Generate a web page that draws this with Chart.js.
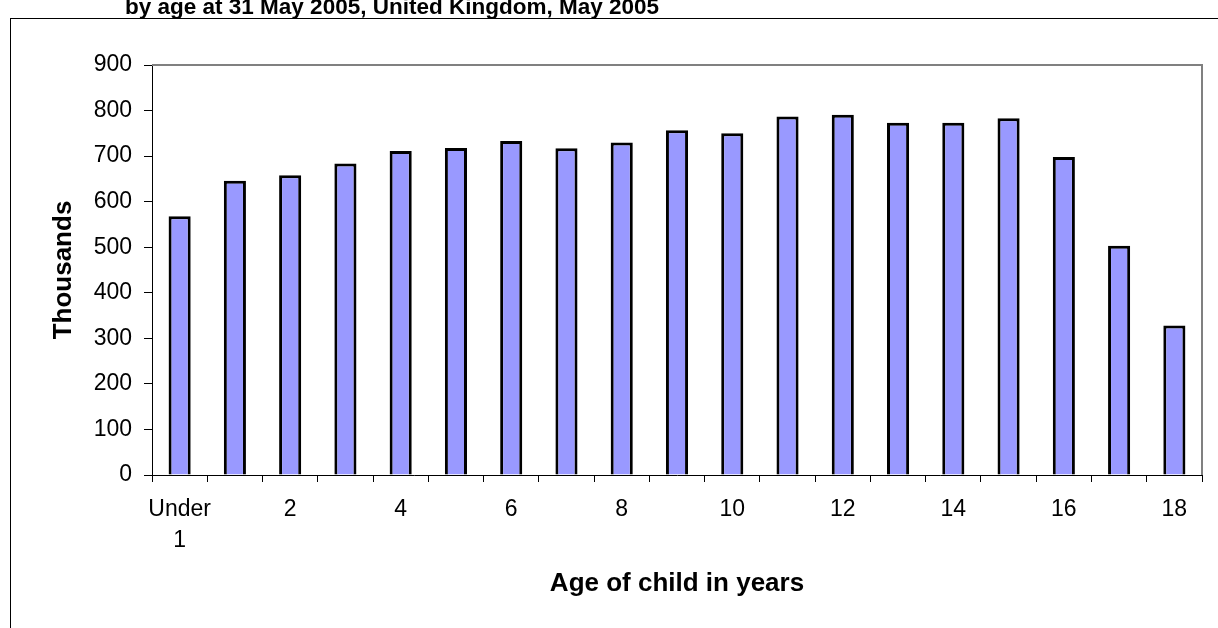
<!DOCTYPE html>
<html>
<head>
<meta charset="utf-8">
<script src="https://cdn.jsdelivr.net/npm/chart.js@4/dist/chart.umd.min.js"></script>
<style>
  html, body { margin: 0; padding: 0; background: #fff; overflow: hidden; }
</style>
</head>
<body>
<canvas id="chart" width="1218" height="628"></canvas>
<script>
// данные
const ages = ['Under 1', '1', '2', '3', '4', '5', '6', '7', '8', '9',
  '10', '11', '12', '13', '14', '15', '16', '17', '18'];
const children = [568, 646, 658, 684, 711, 718, 733, 717, 730, 757,
  750, 787, 791, 773, 773, 783, 698, 503, 328];
const yTicks = [0, 100, 200, 300, 400, 500, 600, 700, 800, 900];

const titleText = 'by age at 31 May 2005, United Kingdom, May 2005';
const FONT = 'Arial, "Liberation Sans", sans-serif';

// рамка вокруг всей диаграммы, обрезанный заголовок и серая рамка поля
const frameAndTitle = {
  id: 'frameAndTitle',
  beforeDraw(chart) {
    const { ctx } = chart;
    ctx.save();
    ctx.strokeStyle = '#000';
    ctx.lineWidth = 1;
    ctx.strokeRect(10.5, 18.5, chart.width + 20, chart.height + 20);
    ctx.fillStyle = '#000';
    ctx.font = `bold 22.5px ${FONT}`;
    ctx.textAlign = 'center';
    ctx.textBaseline = 'alphabetic';
    ctx.fillText(titleText, 392, 14);
    ctx.restore();
  },
  afterDatasetsDraw(chart) {
    const { ctx, chartArea: { left, top, right, bottom } } = chart;
    ctx.save();
    ctx.strokeStyle = '#808080';
    ctx.lineWidth = 2;
    ctx.beginPath();
    ctx.moveTo(left, top);
    ctx.lineTo(right, top);
    ctx.lineTo(right, bottom);
    ctx.stroke();
    ctx.restore();
  },
};

const chart = new Chart(document.getElementById('chart'), {
  type: 'bar',
  data: {
    labels: ages,
    datasets: [{
      data: children,
      backgroundColor: '#9999FF',
      borderColor: '#000000',
      borderWidth: 3,
      barPercentage: 0.4,
      categoryPercentage: 1,
    }],
  },
  options: {
    responsive: false,
    animation: false,
    layout: { padding: { left: 0, top: 65, right: 16, bottom: 0 } },
    plugins: {
      legend: { display: false },
      title: { display: false },
      tooltip: { enabled: false },
    },
    scales: {
      x: {
        afterFit: (scale) => { scale.height = 153; },
        grid: {
          offset: true,
          drawOnChartArea: false,
          drawTicks: true,
          tickLength: 7,
          color: '#000',
        },
        border: { display: true, color: '#000', width: 1 },
        ticks: {
          autoSkip: false,
          maxRotation: 0,
          minRotation: 0,
          padding: 12,
          color: '#000',
          font: { family: FONT, size: 23, lineHeight: 1.35 },
          callback: (value, index) => {
            if (index % 2) return '';
            const label = ages[index];
            return label.includes(' ') ? label.split(' ') : label;
          },
        },
        title: {
          display: true,
          text: 'Age of child in years',
          color: '#000',
          font: { family: FONT, size: 26, weight: 'bold' },
          padding: { top: 0, bottom: 29 },
        },
      },
      y: {
        min: 0,
        max: 900,
        afterFit: (scale) => { scale.width = 152; },
        afterBuildTicks: (scale) => { scale.ticks = yTicks.map((v) => ({ value: v })); },
        grid: {
          drawOnChartArea: false,
          drawTicks: true,
          tickLength: 8,
          color: '#000',
        },
        border: { display: true, color: '#000', width: 1 },
        ticks: {
          padding: 12,
          color: '#000',
          font: { family: FONT, size: 23 },
        },
        title: {
          display: true,
          text: 'Thousands',
          color: '#000',
          font: { family: FONT, size: 26, weight: 'bold' },
          padding: { top: 48, bottom: 0 },
        },
      },
    },
  },
  plugins: [frameAndTitle],
});
</script>
</body>
</html>
